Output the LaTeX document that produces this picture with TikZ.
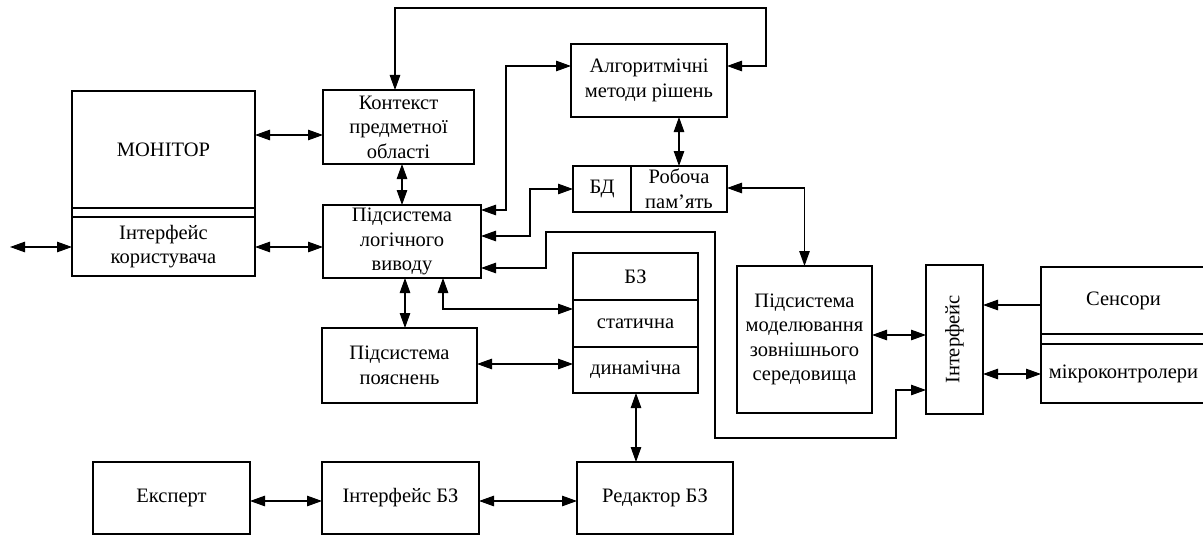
\documentclass[tikz,border=0pt]{standalone}
\usepackage{fontspec}
\setmainfont{Liberation Serif}
\usetikzlibrary{arrows.meta,calc}
\begin{document}
\begin{tikzpicture}[x=1pt,y=-1pt,
  line width=1.1pt,
  lbl/.style={font=\fontsize{20.5}{24.5}\selectfont, align=center, inner sep=0pt},
  blk/.style={draw, lbl, outer sep=0pt, anchor=north west},
  link/.style={{Triangle[length=15pt,width=10.5pt]}-{Triangle[length=15pt,width=10.5pt]}},
  tolink/.style={-{Triangle[length=15pt,width=10.5pt]}}]
\useasboundingbox (0,0) rectangle (1203,535);

% user side
\node[blk, minimum width=183pt, minimum height=117pt] (mon) at (72,91) {МОНІТОР};
\node[blk, minimum width=183pt, minimum height=59pt] (ui) at (72,217) {Інтерфейс\\користувача};
\draw (mon.south west) -- (ui.north west) (mon.south east) -- (ui.north east);

% core blocks
\node[blk, minimum width=151pt, minimum height=74pt] (ctx) at (323,90) {Контекст\\предметної\\області};
\node[blk, minimum width=156pt, minimum height=73pt] (alg) at (571,44) {Алгоритмічні\\методи рішень};
\node[blk, minimum width=58pt, minimum height=46pt] (bd) at (573,166) {БД};
\node[blk, minimum width=96pt, minimum height=46pt] (rob) at (631,166) {Робоча\\пам’ять};
\node[blk, minimum width=158pt, minimum height=73pt] (logic) at (323,205) {Підсистема\\логічного\\виводу};
\node[blk, minimum width=155pt, minimum height=75pt] (expl) at (322,328) {Підсистема\\пояснень};

% knowledge base
\node[blk, minimum width=125pt, minimum height=47pt] (bz) at (573,253) {БЗ};
\node[blk, minimum width=125pt, minimum height=47pt] (stat) at (573,300) {статична};
\node[blk, minimum width=125pt, minimum height=46pt] (dyn) at (573,347) {динамічна};

% environment side
\node[blk, minimum width=135pt, minimum height=147pt] (mod) at (737,266) {Підсистема\\моделювання\\зовнішнього\\середовища};
\node[blk, minimum width=57pt, minimum height=149pt] (iface) at (926,265) {};
\node[lbl, rotate=90] (ifacetxt) at (iface.center) {Інтерфейс};
\node[blk, minimum width=165pt, minimum height=67pt] (sens) at (1041,267) {Сенсори};
\node[blk, minimum width=165pt, minimum height=59pt] (mcu) at (1041,344) {мікроконтролери};
\draw (sens.south west) -- (mcu.north west) (sens.south east) -- (mcu.north east);

% knowledge acquisition
\node[blk, minimum width=157pt, minimum height=72pt] (exp) at (93,462) {Експерт};
\node[blk, minimum width=157pt, minimum height=72pt] (ibz) at (322,462) {Інтерфейс БЗ};
\node[blk, minimum width=156pt, minimum height=72pt] (red) at (577,462) {Редактор БЗ};

% connectors
\coordinate (ext) at (10,247);
\draw[link] (ext) -- (ui.west |- ext);
\draw[link] (mon.east |- 0,135) -- (ctx.west |- 0,135);
\draw[link] (ui.east |- 0,247) -- (logic.west |- 0,247);
\draw[link] (ctx.north -| 395,0) -- (395,8) -- (766,8) -- (766,66) -- (alg.east |- 0,66);
\draw[link] (logic.east |- 0,210) -- (506,210) -- (506,66) -- (alg.west |- 0,66);
\draw[link] (alg.south -| rob.north) -- (rob.north);
\draw[link] (logic.east |- 0,236) -- (530,236) -- (530,189) -- (bd.west |- 0,189);
\draw[link] (rob.east |- 0,188) -- (mod.north |- 0,188) -- (mod.north);
\draw[link] (logic.east |- 0,268) -- (546,268) -- (546,232) -- (715,232) -- (715,438) -- (896,438) -- (896,390) -- (iface.west |- 0,390);
\draw[link] (ctx.south -| logic.north) -- (logic.north);
\draw[link] (logic.south -| 405,0) -- (expl.north -| 405,0);
\draw[link] (logic.south -| 443,0) -- (443,309) -- (stat.west |- 0,309);
\draw[link] (expl.east |- 0,364) -- (dyn.west |- 0,364);
\draw[link] (dyn.south -| 636,0) -- (red.north -| 636,0);
\draw[link] (exp.east |- 0,501) -- (ibz.west |- 0,501);
\draw[link] (ibz.east |- 0,501) -- (red.west |- 0,501);
\draw[link] (mod.east |- 0,335) -- (iface.west |- 0,335);
\draw[tolink] (sens.west |- 0,305) -- (iface.east |- 0,305);
\draw[link] (iface.east |- 0,374) -- (mcu.west |- 0,374);
\end{tikzpicture}
\end{document}
